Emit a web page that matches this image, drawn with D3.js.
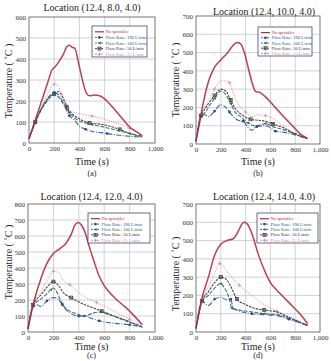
<!DOCTYPE html>
<html>
<head>
<meta charset="utf-8">
<script src="https://cdn.jsdelivr.net/npm/d3@7"></script>
<style>
  body { margin: 0; background: #fff; }
  svg { display: block; }
  svg text { font-family: "Liberation Serif", "DejaVu Serif", serif; }
</style>
</head>
<body>
<div id="chart"></div>
<script>
// tick labels / categories
const timeTicks = [0, 200, 400, 600, 800, 1000];
const seriesNames = ["No sprinkler", "Flow Rate: 190 L/min", "Flow Rate: 100 L/min", "Flow Rate: 50 L/min", "Flow Rate: 25 L/min"];
const panelTitles = ["Location (12.4, 8.0, 4.0)", "Location (12.4, 10.0, 4.0)", "Location (12.4, 12.0, 4.0)", "Location (12.4, 14.0, 4.0)"];
const panelLetters = ["(a)", "(b)", "(c)", "(d)"];
const yMaxes = [600, 700, 800, 700];

// panel (a): [time s, temperature C]
const aNone = [[0,20],[50,110],[100,200],[150,290],[180,345],[210,365],[240,390],[270,420],[300,458],[320,465],[345,455],[365,450],[390,390],[420,310],[450,245],[480,225],[520,228],[560,225],[600,210],[650,180],[700,145],[750,110],[800,75],[850,55],[900,35]];
const a190 = [[0,20],[50,100],[100,165],[150,215],[200,240],[240,225],[280,180],[320,130],[360,110],[400,80],[450,65],[500,55],[560,50],[620,45],[700,38],[800,32],[900,28]];
const a100 = [[0,20],[50,100],[100,160],[150,205],[200,228],[240,215],[280,180],[320,145],[360,120],[420,100],[500,88],[600,75],[700,60],[800,45],[900,32]];
const a50 = [[0,20],[50,100],[100,165],[150,210],[200,235],[230,245],[270,215],[300,170],[340,140],[400,115],[480,95],[560,90],[640,80],[720,65],[800,45],[900,30]];
const a25 = [[0,20],[50,95],[100,170],[150,235],[200,280],[230,270],[260,235],[300,180],[340,150],[400,140],[500,128],[600,112],[700,95],[800,70],[900,30]];

// panel (b)
const bNone = [[0,15],[30,120],[60,230],[100,340],[150,420],[200,460],[250,495],[300,540],[330,555],[360,548],[390,500],[420,420],[450,340],[480,288],[520,280],[560,258],[620,215],[700,155],[780,98],[840,55],[900,30]];
const b190 = [[0,15],[40,150],[70,160],[100,150],[150,180],[200,215],[240,200],[270,175],[300,150],[340,130],[380,125],[420,90],[450,75],[490,95],[560,100],[610,85],[640,70],[700,65],[800,50],[900,28]];
const b100 = [[0,15],[40,150],[70,170],[100,200],[150,250],[200,290],[240,270],[280,220],[320,170],[360,150],[420,115],[470,100],[520,105],[560,112],[620,95],[700,80],[800,55],[900,30]];
const b50 = [[0,15],[40,155],[70,190],[100,220],[150,265],[200,300],[240,290],[280,240],[320,190],[370,160],[440,135],[500,130],[560,125],[620,110],[700,90],[800,55],[900,30]];
const b25 = [[0,15],[40,160],[70,200],[100,235],[150,300],[200,345],[240,345],[270,335],[300,280],[350,210],[400,175],[450,150],[500,160],[560,155],[620,140],[700,100],[800,55],[900,30]];

// panel (c)
const cNone = [[0,20],[50,200],[100,330],[150,430],[200,490],[250,520],[300,555],[340,610],[370,670],[395,685],[420,670],[450,620],[480,540],[520,440],[560,350],[600,290],[650,240],[700,200],[760,160],[820,115],[900,45]];
const c190 = [[0,20],[40,160],[70,170],[100,160],[150,195],[200,215],[240,205],[270,170],[300,140],[340,115],[400,100],[450,100],[500,85],[560,70],[640,58],[720,52],[800,45],[900,30]];
const c100 = [[0,20],[40,165],[100,205],[150,240],[180,265],[200,275],[230,245],[270,175],[320,135],[380,115],[440,100],[500,115],[560,125],[620,115],[700,90],[800,60],[900,30]];
const c50 = [[0,20],[40,170],[100,230],[150,280],[200,315],[240,290],[280,245],[340,215],[420,180],[500,155],[580,130],[660,105],[750,80],[900,30]];
const c25 = [[0,20],[40,175],[100,250],[150,320],[200,380],[240,370],[280,320],[330,295],[400,245],[470,210],[540,185],[620,155],[700,120],[800,80],[900,35]];

// panel (d)
const dNone = [[0,20],[50,190],[100,300],[150,420],[200,480],[250,500],[300,510],[340,550],[370,590],[390,600],[420,585],[460,520],[500,430],[550,340],[600,270],[650,230],[700,195],[780,140],[850,90],[900,45]];
const d190 = [[0,20],[50,170],[80,150],[100,145],[150,180],[200,190],[250,175],[280,180],[300,130],[350,115],[450,100],[550,95],[650,90],[750,70],[900,35]];
const d100 = [[0,20],[50,170],[100,200],[150,240],[200,265],[230,240],[260,200],[290,130],[350,120],[450,110],[550,100],[650,95],[750,75],[900,35]];
const d50 = [[0,20],[50,170],[100,220],[150,270],[200,300],[240,290],[280,250],[330,180],[400,150],[470,130],[550,120],[650,110],[750,80],[900,35]];
const d25 = [[0,20],[50,175],[100,245],[150,320],[190,375],[230,350],[280,305],[350,255],[450,200],[550,150],[650,115],[750,85],[900,40]];

const panelSeries = [
  [aNone, a190, a100, a50, a25],
  [bNone, b190, b100, b50, b25],
  [cNone, c190, c100, c50, c25],
  [dNone, d190, d100, d50, d25],
];

var serif = "'Liberation Serif', 'DejaVu Serif', serif";

var styles = [
  { color: "#b52a3e", width: 1.5, dash: null, marker: null },
  { color: "#2b4c9c", width: 1.1, dash: "5,1.5,1,1.5", marker: "circle" },
  { color: "#2f6a47", width: 1.1, dash: "4,1.5", marker: "tri" },
  { color: "#333344", width: 1.1, dash: "2.5,1", marker: "box" },
  { color: "#d88aa0", width: 1, dash: "1.2,1.2", marker: "plus" },
];

var layout = [
  { left: 29, right: 155, top: 17, bottom: 143, titleY: 11, xlabY: 165, letterY: 176, ylabX: 8, ylabY: 81, legend: [92, 26, 55, 31] },
  { left: 196, right: 320, top: 16, bottom: 144, titleY: 15, xlabY: 165, letterY: 176, ylabX: 175, ylabY: 80, legend: [258, 27, 54, 29] },
  { left: 28, right: 155, top: 204, bottom: 332, titleY: 200, xlabY: 350, letterY: 358, ylabX: 8, ylabY: 262, legend: [88, 213, 62, 30] },
  { left: 196, right: 320, top: 204, bottom: 332, titleY: 200, xlabY: 350, letterY: 358, ylabX: 175, ylabY: 274, legend: [257, 213, 61, 30] },
];

function drawMarker(g, type, cx, cy, color) {
  if (type === "circle") {
    g.append("circle").attr("cx", cx).attr("cy", cy).attr("r", 1.4).attr("fill", color);
  } else if (type === "tri") {
    g.append("path").attr("d", "M" + (cx - 1.6) + "," + cy + "L" + (cx + 1.2) + "," + (cy - 1.4) + "L" + (cx + 1.2) + "," + (cy + 1.4) + "Z").attr("fill", color);
  } else if (type === "box") {
    g.append("rect").attr("x", cx - 1.5).attr("y", cy - 1.5).attr("width", 3).attr("height", 3)
      .attr("fill", "none").attr("stroke", color).attr("stroke-width", 0.7);
    g.append("path").attr("d", "M" + (cx - 1.5) + "," + (cy - 1.5) + "L" + (cx + 1.5) + "," + (cy + 1.5) + "M" + (cx + 1.5) + "," + (cy - 1.5) + "L" + (cx - 1.5) + "," + (cy + 1.5))
      .attr("stroke", color).attr("stroke-width", 0.6);
  } else if (type === "plus") {
    g.append("path").attr("d", "M" + (cx - 1.8) + "," + cy + "H" + (cx + 1.8) + "M" + cx + "," + (cy - 1.8) + "V" + (cy + 1.8))
      .attr("stroke", color).attr("stroke-width", 0.8);
  }
}

function drawPanel(svg, i) {
  var p = layout[i];
  var yTicks = d3.range(0, yMaxes[i] + 1, 100);
  var x = d3.scaleLinear().domain([0, 1000]).range([p.left, p.right]);
  var y = d3.scaleLinear().domain([0, yMaxes[i]]).range([p.bottom, p.top]);
  var g = svg.append("g");

  // grid
  g.selectAll(".gx").data(timeTicks.slice(1, -1)).enter().append("line")
    .attr("x1", (d) => x(d)).attr("x2", (d) => x(d))
    .attr("y1", p.top).attr("y2", p.bottom)
    .attr("stroke", "#c4c6d2").attr("stroke-width", 0.8);
  g.selectAll(".gy").data(yTicks.slice(1, -1)).enter().append("line")
    .attr("x1", p.left).attr("x2", p.right)
    .attr("y1", (d) => y(d)).attr("y2", (d) => y(d))
    .attr("stroke", "#c4c6d2").attr("stroke-width", 0.8);

  // axes
  var xa = g.append("g").attr("transform", "translate(0," + p.bottom + ")")
    .call(d3.axisBottom(x).tickValues(timeTicks).tickSize(0).tickPadding(3));
  var ya = g.append("g").attr("transform", "translate(" + p.left + ",0)")
    .call(d3.axisLeft(y).tickValues(yTicks).tickSize(0).tickPadding(3));
  [xa, ya].forEach(function (a) {
    a.select(".domain").remove();
    a.attr("font-family", serif).attr("font-size", 7);
    a.selectAll("text").attr("fill", "#333");
  });

  // series
  var line = d3.line().x((d) => x(d[0])).y((d) => y(d[1])).curve(d3.curveMonotoneX);
  var series = panelSeries[i];
  for (var s = series.length - 1; s >= 0; s--) {
    var st = styles[s];
    g.append("path").datum(series[s]).attr("d", line)
      .attr("fill", "none").attr("stroke", st.color)
      .attr("stroke-width", st.width).attr("stroke-dasharray", st.dash)
      .attr("stroke-linejoin", "round").attr("opacity", 0.9);
    if (st.marker) {
      series[s].forEach(function (d, k) {
        if (k > 0 && k % 3 === 1 && k < series[s].length - 1) drawMarker(g, st.marker, x(d[0]), y(d[1]), st.color);
      });
    }
  }

  // frame
  g.append("rect").attr("x", p.left).attr("y", p.top)
    .attr("width", p.right - p.left).attr("height", p.bottom - p.top)
    .attr("fill", "none").attr("stroke", "#555").attr("stroke-width", 0.8);

  // legend
  var L = p.legend;
  var lg = g.append("g").attr("transform", "translate(" + L[0] + "," + L[1] + ")");
  lg.append("rect").attr("width", L[2]).attr("height", L[3])
    .attr("fill", "#fff").attr("stroke", "#2a2f5a").attr("stroke-width", 0.7);
  var rowH = (L[3] - 3) / seriesNames.length;
  seriesNames.forEach(function (name, k) {
    var st = styles[k];
    var cy = 3 + rowH * (k + 0.5);
    lg.append("line").attr("x1", 3).attr("x2", 12).attr("y1", cy).attr("y2", cy)
      .attr("stroke", st.color).attr("stroke-width", k === 0 ? 1.2 : 0.9)
      .attr("stroke-dasharray", st.dash ? "2,1" : null);
    if (st.marker) drawMarker(lg, st.marker, 7.5, cy, st.color);
    lg.append("text").attr("x", 13.5).attr("y", cy + 1.5).attr("font-family", serif)
      .attr("font-size", 4.6).attr("fill", st.color).text(name);
  });

  // labels
  g.append("text").attr("x", (p.left + p.right) / 2 + (i % 2 ? 6 : 0)).attr("y", p.titleY)
    .attr("text-anchor", "middle").attr("font-family", serif).attr("font-size", 10).attr("fill", "#222").text(panelTitles[i]);
  g.append("text").attr("x", (p.left + p.right) / 2).attr("y", p.xlabY)
    .attr("text-anchor", "middle").attr("font-family", serif).attr("font-size", 10).attr("fill", "#222").text("Time (s)");
  g.append("text").attr("x", (p.left + p.right) / 2).attr("y", p.letterY)
    .attr("text-anchor", "middle").attr("font-family", serif).attr("font-size", 8).attr("fill", "#222").text(panelLetters[i]);
  g.append("text")
    .attr("transform", "translate(" + p.ylabX + "," + p.ylabY + ") rotate(-90)")
    .attr("text-anchor", "middle").attr("dy", "0.35em").attr("font-family", serif).attr("font-size", 10).attr("fill", "#222")
    .text("Temperature ( ˚C )");
}

var svg = d3.select("#chart").append("svg").attr("width", 331).attr("height", 361);
for (var i = 0; i < 4; i++) drawPanel(svg, i);
</script>
</body>
</html>
